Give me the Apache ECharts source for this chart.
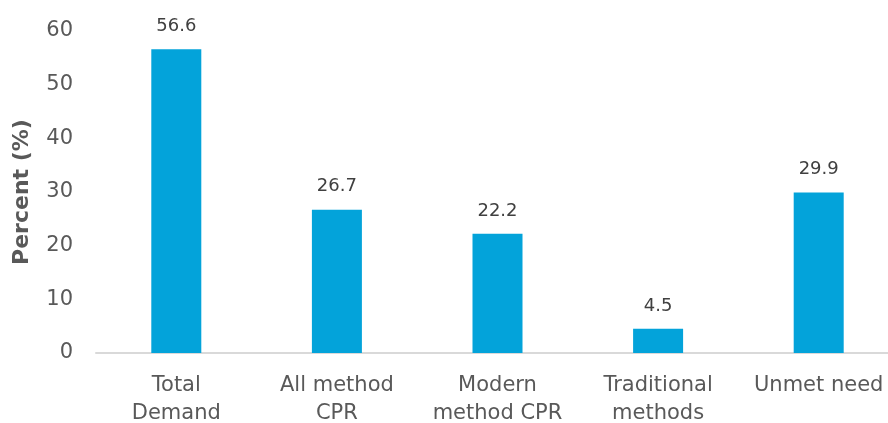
<!DOCTYPE html>
<html>
<head>
<meta charset="utf-8">
<script src="https://cdn.jsdelivr.net/npm/echarts@6/dist/echarts.min.js"></script>
<style>
	html, body { margin: 0; padding: 0; background: #fff; }
	#chart { width: 888px; height: 423px; }
</style>
</head>
<body>
<div id="chart"></div>
<script>
const categories = ["Total\nDemand", "All method\nCPR", "Modern\nmethod CPR", "Traditional\nmethods", "Unmet need"]
const values = [56.6, 26.7, 22.2, 4.5, 29.9]
const yTicks = [0, 10, 20, 30, 40, 50, 60]

const font = "'DejaVu Sans', sans-serif"
const chart = echarts.init(document.getElementById("chart"))
chart.setOption({
	animation: false,
	grid: {
		left: 96,
		right: -11,
		top: 31,
		bottom: 70,
		outerBoundsMode: "none",
		containLabel: false,
	},
	xAxis: {
		type: "category",
		data: categories,
		axisLine: { lineStyle: { color: "#d9d9d9", width: 2 } },
		axisTick: { show: false },
		axisLabel: {
			color: "#595959",
			fontSize: 21,
			fontFamily: font,
			lineHeight: 28,
			margin: 19,
			interval: 0,
		},
	},
	yAxis: {
		type: "value",
		min: yTicks[0],
		max: yTicks[yTicks.length - 1],
		interval: 10,
		name: "Percent (%)",
		nameLocation: "middle",
		nameGap: 63,
		nameTextStyle: {
			color: "#595959",
			fontSize: 22,
			fontWeight: "bold",
			fontFamily: font,
		},
		axisLine: { show: false },
		axisTick: { show: false },
		splitLine: { show: false },
		axisLabel: {
			color: "#595959",
			fontSize: 21,
			fontFamily: font,
			margin: 23,
		},
	},
	series: [
		{
			type: "bar",
			data: values,
			barWidth: 50,
			itemStyle: { color: "#03A3DA" },
			label: {
				show: true,
				position: "top",
				distance: 14,
				color: "#404040",
				fontSize: 18,
				fontFamily: font,
			},
		},
	],
})
</script>
</body>
</html>
